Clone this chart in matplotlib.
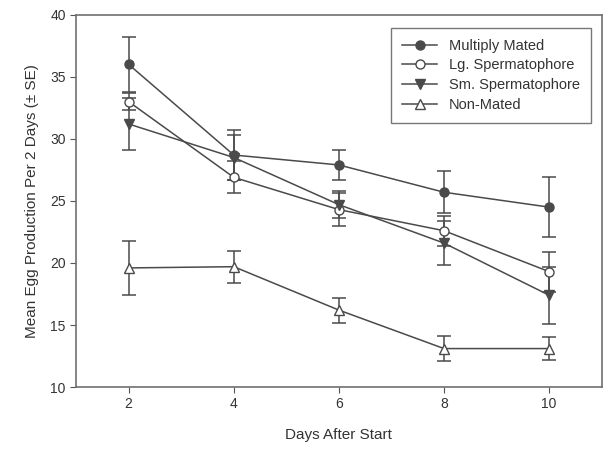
import matplotlib
matplotlib.use("Agg")
import matplotlib.pyplot as plt
from matplotlib.lines import Line2D

plt.rcParams['font.family'] = ['Liberation Sans', 'DejaVu Sans']

# 데이터
days = [2, 4, 6, 8, 10]
multiply_mated = [36.0, 28.7, 27.9, 25.7, 24.5]
multiply_err = [2.2, 2.0, 1.2, 1.7, 2.4]
lg_spermato = [33.0, 26.9, 24.3, 22.6, 19.3]
lg_err = [0.7, 1.3, 1.3, 1.2, 1.6]
sm_spermato = [31.2, 28.5, 24.7, 21.6, 17.4]
sm_err = [2.1, 1.8, 1.1, 1.8, 2.3]
non_mated = [19.6, 19.7, 16.2, 13.1, 13.1]
non_err = [2.2, 1.3, 1.0, 1.0, 0.9]

c = '#4a4a4a'
fig = plt.figure(figsize=(6.09, 4.49), dpi=100)
ax = fig.add_axes([0.125, 0.138, 0.863, 0.829])

series = [
    (multiply_mated, multiply_err, 'o', c, 'Multiply Mated'),
    (lg_spermato, lg_err, 'o', 'white', 'Lg. Spermatophore'),
    (sm_spermato, sm_err, 'v', c, 'Sm. Spermatophore'),
    (non_mated, non_err, '^', 'white', 'Non-Mated'),
]
handles = []
for vals, err, m, fc, lab in series:
    ax.errorbar(days, vals, yerr=err, fmt='-', marker=m, color=c, mfc=fc, mec=c,
                ms=6.5, lw=1.1, elinewidth=1.1, capsize=5, capthick=1.1)
    # 범례용 핸들 (에러바 없이)
    handles.append(Line2D([], [], color=c, marker=m, mfc=fc, mec=c, ms=6.5, lw=1.1, label=lab))

ax.set_xlim(1, 11)
ax.set_ylim(10, 40)
ax.set_xticks(days)
ax.set_yticks(range(10, 41, 5))
for s in ax.spines.values():
    s.set_color('#707070')
    s.set_linewidth(1.2)
ax.tick_params(colors='#555555', labelcolor='#333333', labelsize=10, length=4, direction='out')
ax.set_xlabel('Days After Start', fontsize=11, color='#333333', labelpad=12)
ax.set_ylabel('Mean Egg Production Per 2 Days (± SE)', fontsize=11, color='#333333', labelpad=8)

leg = ax.legend(handles=handles, loc='upper right', bbox_to_anchor=(0.993, 0.985), fontsize=10.5,
                frameon=True, fancybox=False, edgecolor='#555555', handlelength=2.4,
                borderpad=0.75, labelspacing=0.4)
leg.get_frame().set_linewidth(1.0)
for t in leg.get_texts():
    t.set_color('#333333')

plt.savefig('out.png', dpi=100)
